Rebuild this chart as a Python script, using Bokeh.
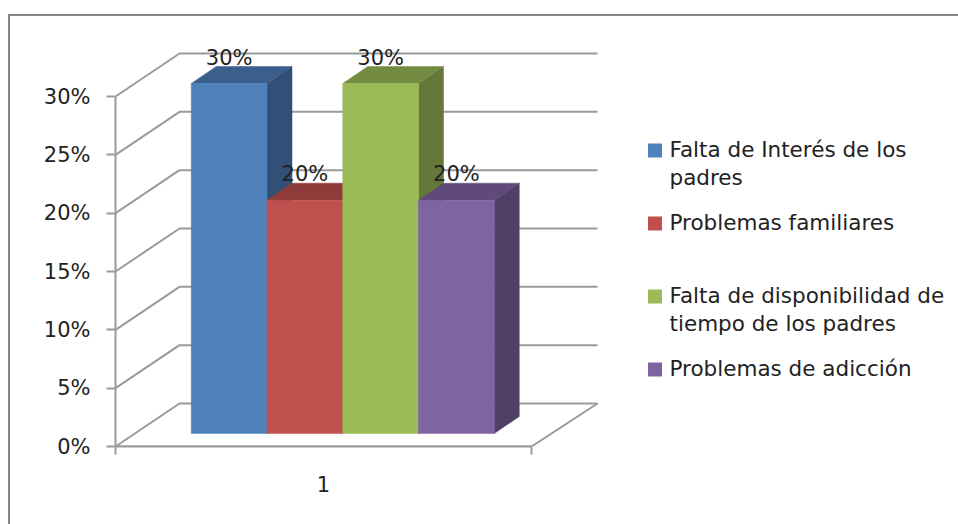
from bokeh.embed import file_html
from bokeh.resources import INLINE
from bokeh.plotting import figure
from bokeh.models import Range1d, LinearAxis, FixedTicker, PrintfTickFormatter, ColumnDataSource
from bokeh.core.properties import value

categories = ["Falta de Interés de los\npadres", "Problemas familiares",
              "Falta de disponibilidad de\ntiempo de los padres", "Problemas de adicción"]
values = [30, 20, 30, 20]
value_labels = ["30%", "20%", "30%", "20%"]
front_colors = ["#4F81BD", "#C0504D", "#9BBB59", "#8064A2"]
top_colors = ["#3A5F8C", "#8F3B39", "#748C42", "#5F4A79"]
side_colors = ["#324F77", "#7A3230", "#637839", "#513F68"]
y_ticks = [0, 5, 10, 15, 20, 25, 30]
category_label = "1"

# scale: x unit = one bar width, y unit = one percentage point
PX_X, PX_Y = 75.75, 350 / 30
W, H = 958, 524
LEFT, BOTTOM = 115, 78   # axes at page x=115, y=446
x0 = -1.0
x1 = x0 + (W - LEFT) / PX_X
y1 = (H - BOTTOM) / PX_Y
WALL_DX, WALL_DY = 64 / PX_X, 43 / PX_Y
WALL_DX_R = 66 / PX_X
BAR_DX, BAR_DY = 25 / PX_X, 17 / PX_Y
BASE_Y = 13 / PX_Y
AXIS_END = x0 + 416 / PX_X
GRID = "#9A9A9A"
FONT = "DejaVu Sans"
TXT = "#222222"

p = figure(width=W, height=H, output_backend="svg", toolbar_location=None,
           x_range=Range1d(x0, x1), y_range=Range1d(0, y1),
           x_axis_type=None, y_axis_type=None,
           min_border_left=LEFT, min_border_bottom=BOTTOM, min_border_top=0, min_border_right=0,
           border_fill_alpha=0, background_fill_alpha=0)
p.outline_line_color = None
p.grid.visible = False

# outer frame of the picture: only its left and top edges are in view
EDGE = "linear-gradient(#858585,#858585)"
p.styles = {"background-image": f"{EDGE},{EDGE}",
            "background-size": "2px 510px,950px 2px",
            "background-position": "8px 14px,8px 14px",
            "background-repeat": "no-repeat"}

# walls
for t in y_ticks:
    p.line([x0, x0 + WALL_DX, AXIS_END + WALL_DX_R], [t, t + WALL_DY, t + WALL_DY], line_color=GRID, line_width=2)
p.line([x0, AXIS_END, AXIS_END + WALL_DX_R], [0, 0, WALL_DY], line_color=GRID, line_width=2)

# bars
idx = list(range(len(values)))
p.patches([[i + 1, i + 1 + BAR_DX, i + 1 + BAR_DX, i + 1] for i in idx],
          [[BASE_Y, BASE_Y + BAR_DY, v + BASE_Y + BAR_DY, v + BASE_Y] for v in values],
          fill_color=side_colors, line_color=side_colors, line_width=0.5)
p.patches([[i, i + BAR_DX, i + 1 + BAR_DX, i + 1] for i in idx],
          [[v + BASE_Y, v + BASE_Y + BAR_DY, v + BASE_Y + BAR_DY, v + BASE_Y] for v in values],
          fill_color=top_colors, line_color=top_colors, line_width=0.5)
p.quad(left=idx, right=[i + 1 for i in idx], bottom=BASE_Y, top=[v + BASE_Y for v in values],
       fill_color=front_colors, line_color=front_colors, line_width=0.5)

src = ColumnDataSource(dict(x=[i + 0.5 for i in idx], y=[v + BASE_Y + BAR_DY for v in values], t=value_labels))
p.text("x", "y", text="t", source=src, text_align="center", text_baseline="bottom", text_color=TXT,
       text_font=value(FONT), text_font_size="21px", y_offset=3)

# axes
yax = LinearAxis(ticker=FixedTicker(ticks=y_ticks), formatter=PrintfTickFormatter(format="%d%%"),
                 bounds=(0, 30), axis_line_color=GRID, axis_line_width=2, major_tick_line_color=GRID,
                 major_tick_line_width=2, major_tick_out=9, major_tick_in=0, minor_tick_line_color=None,
                 major_label_text_font=FONT, major_label_text_font_size="21px",
                 major_label_text_color=TXT, major_label_standoff=16)
p.add_layout(yax, "left")
xax = LinearAxis(ticker=FixedTicker(ticks=[(x0 + AXIS_END) / 2], minor_ticks=[x0, AXIS_END]),
                 major_label_overrides={(x0 + AXIS_END) / 2: category_label},
                 bounds=(x0, AXIS_END), axis_line_color=GRID, axis_line_width=2,
                 major_tick_line_color=None, major_tick_out=0, major_tick_in=0,
                 minor_tick_line_color=GRID, minor_tick_line_width=2, minor_tick_out=8, minor_tick_in=0,
                 major_label_text_font=FONT, major_label_text_font_size="21px",
                 major_label_text_color=TXT, major_label_standoff=21)
p.add_layout(xax, "below")

# legend: evenly spaced rows, swatch level with the first line of each label
leg_step = 73 / PX_Y
leg_y = [(446 - 150) / PX_Y - i * leg_step for i in idx]
leg_sw_x = x0 + (654.5 - 115) / PX_X
leg_tx_x = x0 + (669 - 115) / PX_X
p.scatter([leg_sw_x] * 4, leg_y, marker="square", size=14, fill_color=front_colors, line_color=front_colors,
          line_width=0)
p.text([leg_tx_x] * 4, leg_y, text=categories, text_align="left", text_baseline="top", y_offset=-14,
       text_color=TXT, text_font=value(FONT), text_font_size="21.5px", text_line_height=1.12)

open("out.html", "w").write(file_html(p, INLINE))
